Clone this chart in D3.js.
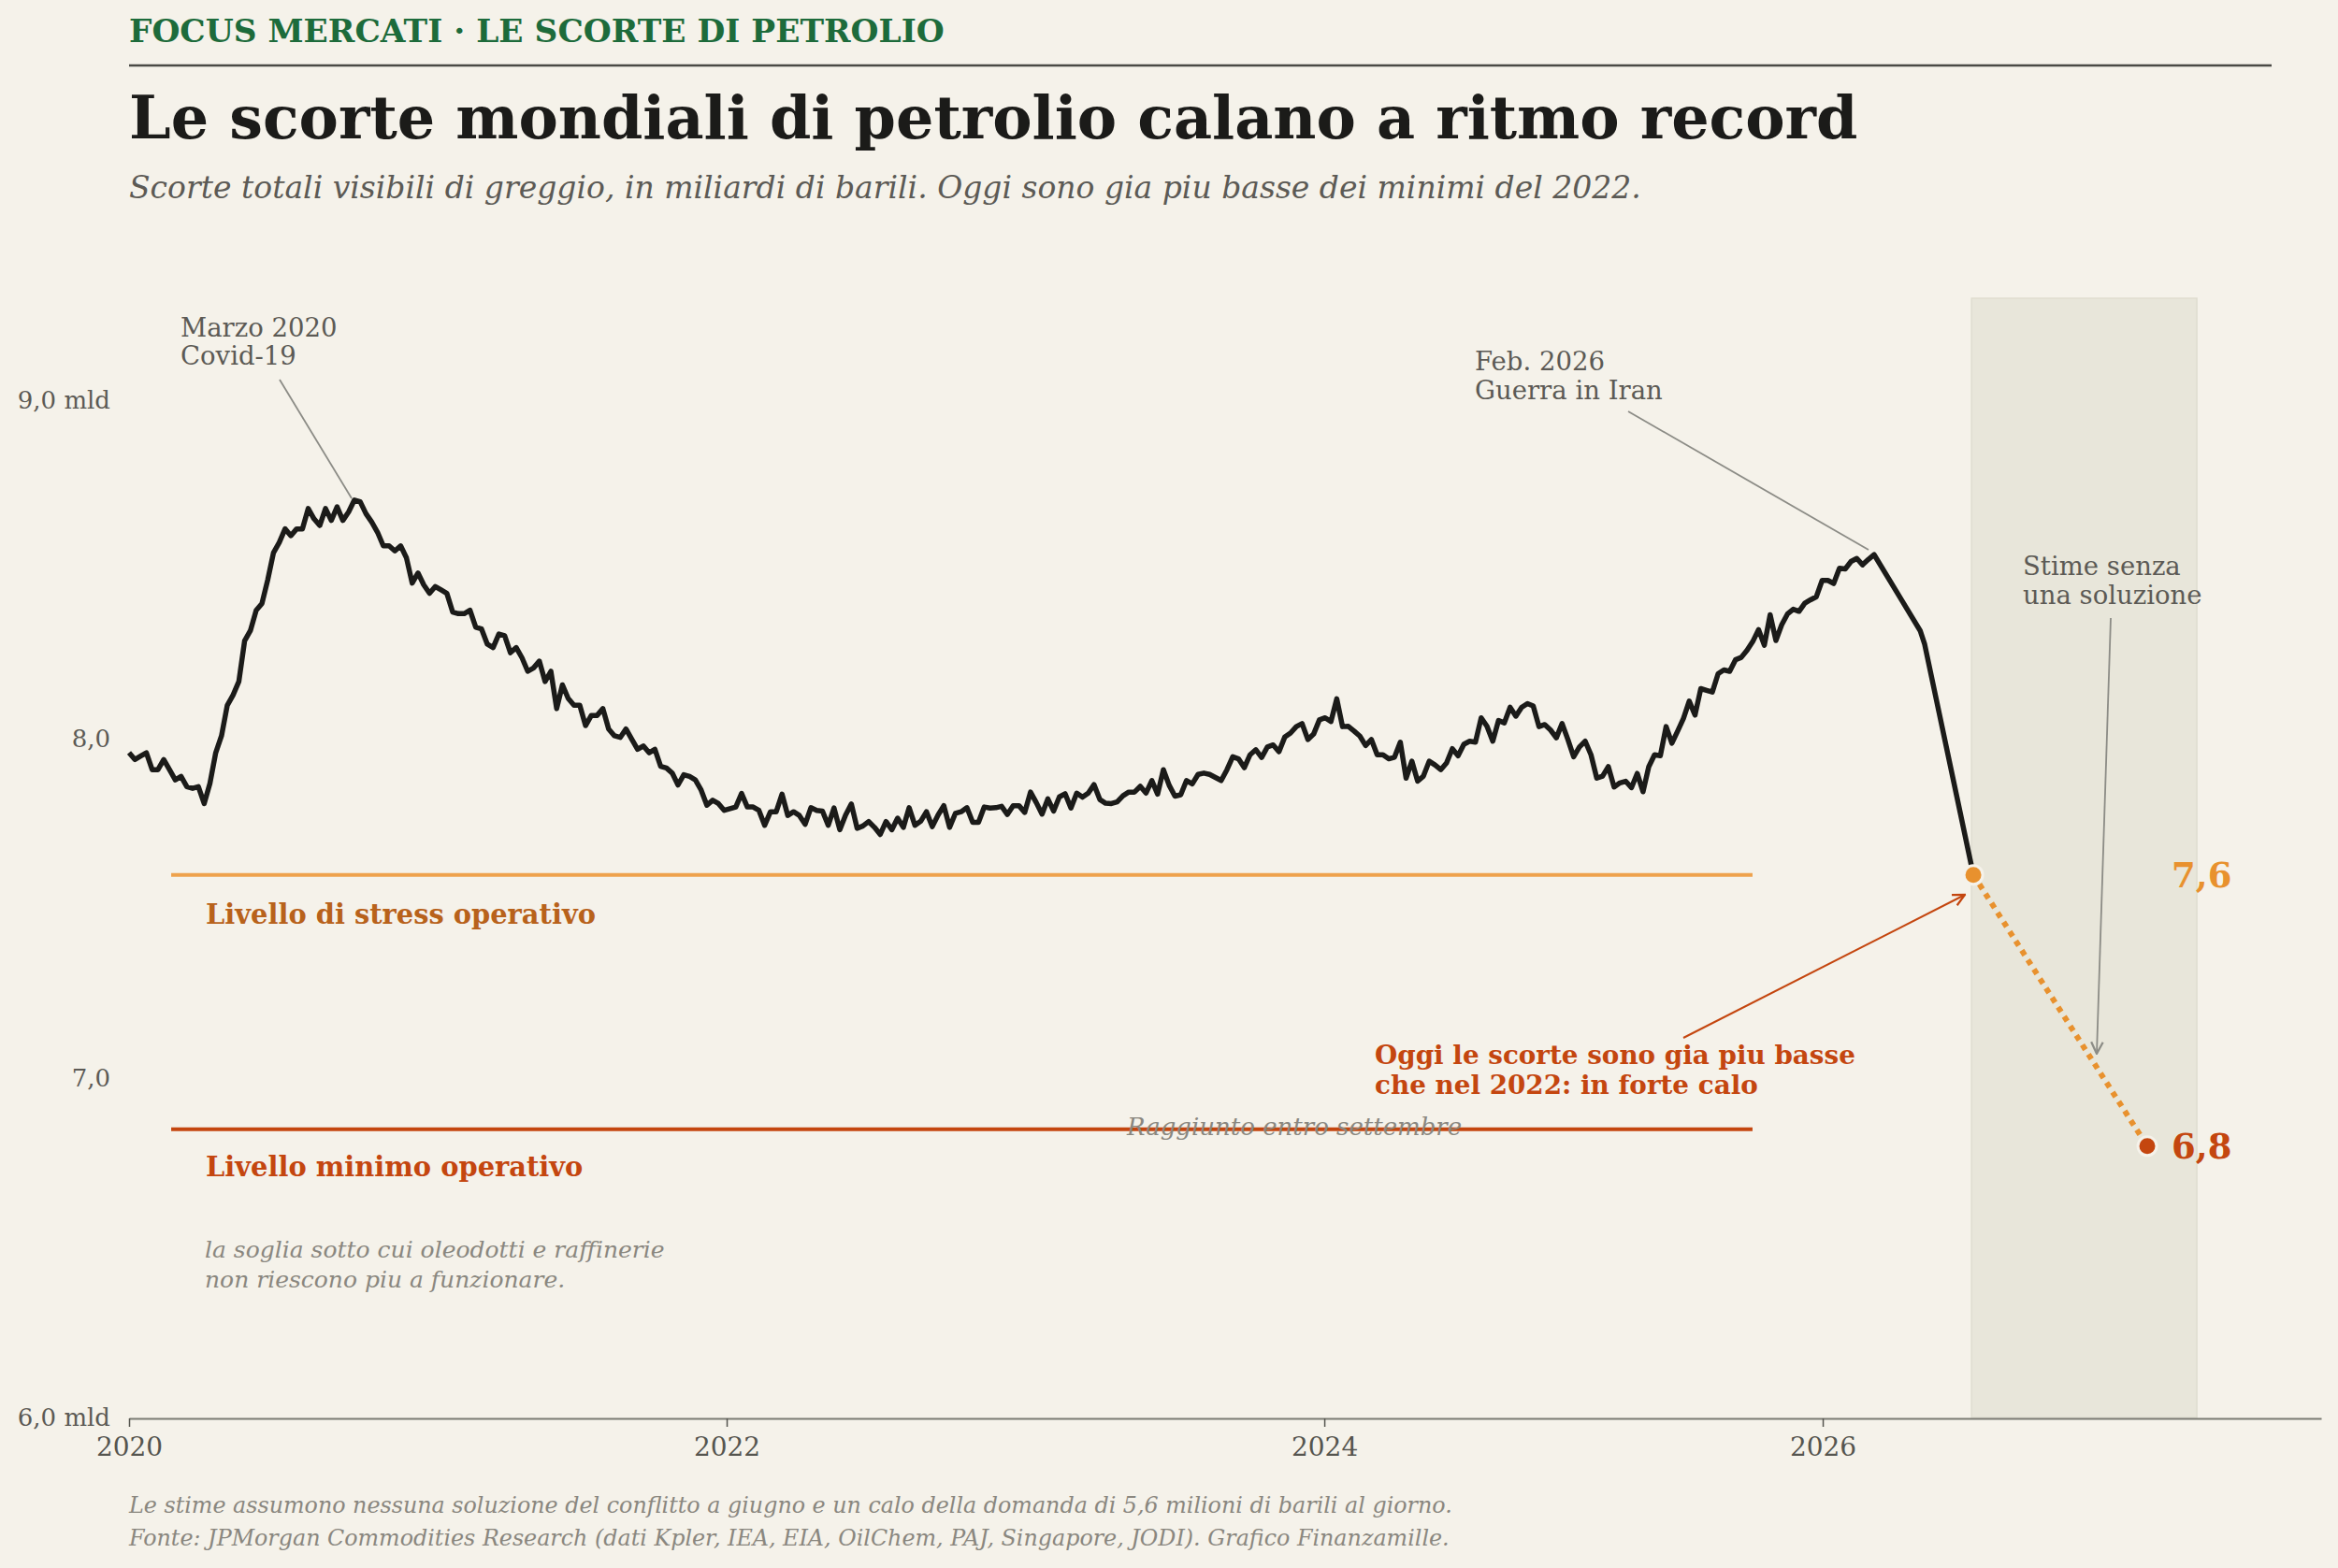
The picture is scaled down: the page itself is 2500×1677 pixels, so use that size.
<!DOCTYPE html>
<html><head><meta charset="utf-8">
<script src="https://cdn.jsdelivr.net/npm/d3@7"></script>
<style>
html,body{margin:0;padding:0;background:#f5f2ea;}
svg{display:block;font-family:"DejaVu Serif",serif;}
</style></head><body>
<svg id="chart" width="2500" height="1677"></svg>
<script>
// ---------------- DATA ----------------
// Weekly visible crude stocks (billion barrels), from early 2020 to the Feb. 2026 peak
const histStart = 2020.0;
const histEnd = 2025.84;
const histValues = [
7.96,7.94,7.95,7.96,7.91,7.91,7.94,7.91,7.88,7.89,
7.86,7.855,7.86,7.81,7.87,7.96,8.01,8.10,8.13,8.17,
8.29,8.32,8.38,8.40,8.47,8.55,8.58,8.62,8.60,8.62,
8.62,8.68,8.65,8.63,8.68,8.645,8.685,8.645,8.67,8.705,
8.70,8.665,8.64,8.61,8.57,8.57,8.555,8.57,8.535,8.46,
8.49,8.455,8.43,8.45,8.44,8.43,8.375,8.37,8.37,8.38,
8.33,8.325,8.28,8.27,8.31,8.305,8.255,8.27,8.24,8.20,
8.21,8.23,8.17,8.20,8.09,8.16,8.12,8.10,8.10,8.04,
8.07,8.07,8.09,8.03,8.01,8.005,8.03,8.00,7.97,7.98,
7.96,7.97,7.92,7.915,7.90,7.865,7.895,7.89,7.88,7.85,
7.805,7.82,7.81,7.79,7.795,7.80,7.84,7.80,
7.80,7.79,7.746,7.786,7.786,7.838,7.775,7.786,7.775,7.749,
7.798,7.79,7.788,7.746,7.797,7.733,7.776,7.809,7.737,7.744,
7.757,7.74,7.719,7.757,7.733,7.767,7.74,7.798,7.746,7.758,
7.786,7.742,7.776,7.804,7.74,7.781,7.786,7.798,7.755,7.755,
7.80,7.797,7.798,7.802,7.778,7.804,7.804,7.784,7.844,7.813,
7.779,7.824,7.788,7.83,7.839,7.797,7.841,7.829,7.841,7.866,
7.822,7.811,7.81,7.815,7.833,7.844,7.844,7.861,7.841,7.878,
7.838,7.91,7.864,7.832,7.836,7.878,7.868,7.896,7.90,7.896,
7.887,
7.878,7.91,7.948,7.942,7.916,7.954,7.969,7.946,7.977,7.983,
7.963,8.006,8.018,8.037,8.046,7.999,8.015,8.057,8.063,8.052,
8.119,8.037,8.038,8.024,8.009,7.981,7.999,7.954,7.954,7.942,
7.947,7.991,7.885,7.935,7.876,7.891,7.935,7.924,7.91,7.93,
7.972,7.951,7.985,7.994,7.991,8.063,8.038,7.994,8.055,8.048,
8.094,8.068,8.094,8.105,8.098,8.037,8.043,8.027,8.004,8.046,
7.999,7.948,7.977,7.994,7.954,7.885,7.891,7.919,7.859,7.871,
7.876,7.857,7.899,7.845,7.919,7.954,7.951,8.037,
7.988,8.024,8.061,8.112,8.071,8.149,8.144,8.139,8.193,8.204,
8.20,8.234,8.241,8.262,8.288,8.323,8.277,8.367,8.291,8.337,
8.369,8.383,8.377,8.401,8.411,8.42,8.468,8.468,8.459,8.504,
8.502,8.524,8.533,8.514,8.53,8.544
];
// Sharp draw-down after the war began, up to today
const dropDates  = [2025.994, 2026.009, 2026.172];
const dropValues = [8.32, 8.28, 7.60];
// Estimate with no solution
const forecastDates  = [2026.172, 2026.754];
const forecastValues = [7.6, 6.8];
const forecastLabels = ["7,6", "6,8"];
// Operational thresholds
const stressLevel = 7.6;
const minLevel = 6.85;
const levelSpan = [2020.141, 2025.433];
const shadeSpan = [2026.166, 2026.92];
// Axes
const xDomain = [2020, 2027.336];
const yDomain = [6, 9.3];
const xTickValues = [2020, 2022, 2024, 2025.668];
const xTickLabels = ["2020", "2022", "2024", "2026"];
const yTickValues = [6, 7, 8, 9];
const yTickLabels = ["6,0 mld", "7,0", "8,0", "9,0 mld"];

// ---------------- CHART ----------------
const W = 2500, H = 1677;
const svg = d3.select("#chart");
const C = {
  bg: "#f5f2ea", green: "#1d6b3b", ink: "#1b1b19", sub: "#5c5a55",
  grey: "#8a877f", lead: "#8c8c86", stress: "#eea24d", stressTxt: "#b8621b",
  red: "#c4460f", orange: "#e8912e", shade: "#e8e6da"
};
svg.append("rect").attr("width", W).attr("height", H).attr("fill", C.bg);

const x = d3.scaleLinear().domain(xDomain).range([138, 2482]);
const y = d3.scaleLinear().domain(yDomain).range([1516, 319]);

const defs = svg.append("defs");
function marker(id, color) {
  defs.append("marker").attr("id", id).attr("viewBox", "0 0 12 12")
    .attr("refX", 11).attr("refY", 6).attr("markerWidth", 15).attr("markerHeight", 15)
    .attr("markerUnits", "userSpaceOnUse").attr("orient", "auto")
    .append("path").attr("d", "M1,1 L11,6 L1,11").attr("fill", "none")
    .attr("stroke", color).attr("stroke-width", 1.8);
}
marker("arrRed", C.red);
marker("arrGrey", C.lead);

// header
svg.append("text").attr("x", 138).attr("y", 45).attr("fill", C.green)
  .attr("font-size", 34.4).attr("font-weight", "bold").text("FOCUS MERCATI · LE SCORTE DI PETROLIO");
svg.append("line").attr("x1", 138).attr("x2", 2429).attr("y1", 70).attr("y2", 70)
  .attr("stroke", "#4a4a45").attr("stroke-width", 2.5);
svg.append("text").attr("x", 138).attr("y", 148).attr("fill", C.ink)
  .attr("font-size", 63.5).attr("font-weight", "bold").text("Le scorte mondiali di petrolio calano a ritmo record");
svg.append("text").attr("x", 138).attr("y", 212).attr("fill", C.sub)
  .attr("font-size", 33).attr("font-style", "italic")
  .text("Scorte totali visibili di greggio, in miliardi di barili. Oggi sono gia piu basse dei minimi del 2022.");

// shaded estimate band
svg.append("rect").attr("x", x(shadeSpan[0])).attr("width", x(shadeSpan[1]) - x(shadeSpan[0]))
  .attr("y", y(yDomain[1])).attr("height", y(yDomain[0]) - y(yDomain[1]))
  .attr("fill", C.shade).attr("stroke", "#dfddd0").attr("stroke-width", 1.5);

// threshold lines
svg.append("line").attr("x1", x(levelSpan[0])).attr("x2", x(levelSpan[1]))
  .attr("y1", y(stressLevel)).attr("y2", y(stressLevel)).attr("stroke", C.stress).attr("stroke-width", 4);
svg.append("line").attr("x1", x(levelSpan[0])).attr("x2", x(levelSpan[1]))
  .attr("y1", y(minLevel)).attr("y2", y(minLevel)).attr("stroke", C.red).attr("stroke-width", 4);

svg.append("text").attr("x", 220).attr("y", 988).attr("fill", C.stressTxt)
  .attr("font-size", 28.9).attr("font-weight", "bold").text("Livello di stress operativo");
svg.append("text").attr("x", 220).attr("y", 1258).attr("fill", C.red)
  .attr("font-size", 28.9).attr("font-weight", "bold").text("Livello minimo operativo");
const desc = svg.append("text").attr("fill", C.grey).attr("font-size", 25).attr("font-style", "italic");
desc.append("tspan").attr("x", 219).attr("y", 1345).text("la soglia sotto cui oleodotti e raffinerie");
desc.append("tspan").attr("x", 219).attr("y", 1377).text("non riescono piu a funzionare.");

svg.append("text").attr("x", 1205).attr("y", 1214).attr("fill", C.grey)
  .attr("font-size", 26).attr("font-style", "italic").text("Raggiunto entro settembre");

// axes
const xAxis = svg.append("g").attr("transform", `translate(0,${y(6) + 1})`)
  .call(d3.axisBottom(x).tickValues(xTickValues).tickFormat((d, i) => xTickLabels[i])
    .tickSize(9).tickSizeOuter(0));
xAxis.select(".domain").attr("stroke", "#7a7a72").attr("stroke-width", 2);
xAxis.selectAll(".tick line").attr("stroke", "#55554f").attr("stroke-width", 1.5);
xAxis.selectAll(".tick text").attr("font-family", "DejaVu Serif").attr("font-size", 28)
  .attr("fill", "#55554f").attr("y", 20);

const yAxis = svg.append("g").attr("transform", "translate(121,0)")
  .call(d3.axisLeft(y).tickValues(yTickValues).tickFormat((d, i) => yTickLabels[i]).tickSize(0));
yAxis.select(".domain").remove();
yAxis.selectAll(".tick text").attr("font-family", "DejaVu Serif").attr("font-size", 26)
  .attr("fill", "#5c5a55");

// main line
const step = (histEnd - histStart) / (histValues.length - 1);
const hist = histValues.map((v, i) => ({ t: histStart + i * step, v }));
const drop = dropDates.map((t, i) => ({ t, v: dropValues[i] }));
const series = hist.concat(drop);
const line = d3.line().x(d => x(d.t)).y(d => y(d.v));
svg.append("path").datum(series).attr("d", line).attr("fill", "none")
  .attr("stroke", C.ink).attr("stroke-width", 5.5).attr("stroke-linejoin", "round");

// forecast
const fc = forecastDates.map((t, i) => ({ t, v: forecastValues[i] }));
svg.append("path").datum(fc).attr("d", line).attr("fill", "none")
  .attr("stroke", C.orange).attr("stroke-width", 6).attr("stroke-dasharray", "6,6");
const dotColors = [C.orange, C.red];
svg.selectAll(".fdot").data(fc).join("circle").attr("class", "fdot")
  .attr("cx", d => x(d.t)).attr("cy", d => y(d.v)).attr("r", 10)
  .attr("fill", (d, i) => dotColors[i]).attr("stroke", C.bg).attr("stroke-width", 3);
svg.selectAll(".flab").data(fc).join("text").attr("class", "flab")
  .attr("x", 2322).attr("y", d => y(d.v) + 13).attr("font-size", 37).attr("font-weight", "bold")
  .attr("fill", (d, i) => dotColors[i]).text((d, i) => forecastLabels[i]);

// annotations
function multi(xp, yp, lines, size, color, opts = {}) {
  const t = svg.append("text").attr("fill", color).attr("font-size", size);
  if (opts.bold) t.attr("font-weight", "bold");
  lines.forEach((s, i) => t.append("tspan").attr("x", xp).attr("y", yp + i * opts.lh).text(s));
}
multi(193, 360, ["Marzo 2020", "Covid-19"], 27.5, C.sub, { lh: 30 });
svg.append("line").attr("x1", 299).attr("y1", 406).attr("x2", 376).attr("y2", 533)
  .attr("stroke", C.lead).attr("stroke-width", 1.8);

multi(1577, 396, ["Feb. 2026", "Guerra in Iran"], 27.5, C.sub, { lh: 31 });
svg.append("line").attr("x1", 1741).attr("y1", 440).attr("x2", 1998).attr("y2", 588)
  .attr("stroke", C.lead).attr("stroke-width", 1.8);

multi(2163, 615, ["Stime senza", "una soluzione"], 27.5, C.sub, { lh: 31 });
svg.append("line").attr("x1", 2257).attr("y1", 661).attr("x2", 2242).attr("y2", 1127)
  .attr("stroke", C.lead).attr("stroke-width", 1.8).attr("marker-end", "url(#arrGrey)");

multi(1470, 1138, ["Oggi le scorte sono gia piu basse", "che nel 2022: in forte calo"], 27.8, C.red, { lh: 32, bold: true });
svg.append("line").attr("x1", 1800).attr("y1", 1110).attr("x2", 2101).attr("y2", 957)
  .attr("stroke", C.red).attr("stroke-width", 2).attr("marker-end", "url(#arrRed)");

// footer
const foot = svg.append("text").attr("fill", C.grey).attr("font-size", 23.8).attr("font-style", "italic");
foot.append("tspan").attr("x", 138).attr("y", 1618)
  .text("Le stime assumono nessuna soluzione del conflitto a giugno e un calo della domanda di 5,6 milioni di barili al giorno.");
foot.append("tspan").attr("x", 138).attr("y", 1653)
  .text("Fonte: JPMorgan Commodities Research (dati Kpler, IEA, EIA, OilChem, PAJ, Singapore, JODI). Grafico Finanzamille.");
</script></body></html>
